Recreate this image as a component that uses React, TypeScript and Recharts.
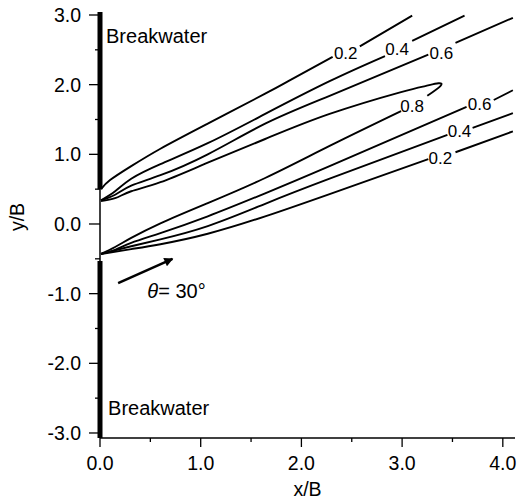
import { LineChart, Line, XAxis, YAxis, ReferenceLine, ReferenceDot } from "recharts";

const FONT = "'Liberation Sans', Arial, Helvetica, sans-serif";

// ─── Data (x/B, y/B) ──────────────────────────────────────

type Pt = { x: number; y: number | null };

const X_DOMAIN: [number, number] = [0, 4.121];
const Y_DOMAIN: [number, number] = [-3.072, 3.043];

const xTicks = [0, 0.5, 1, 1.5, 2, 2.5, 3, 3.5, 4];
const yTicks = [-3, -2.5, -2, -1.5, -1, -0.5, 0, 0.5, 1, 1.5, 2, 2.5, 3];

// upper family, starts at tip of upper breakwater
const contour02Upper: Pt[] = [
  { x: 0.01, y: 0.5 }, { x: 0.1, y: 0.63 }, { x: 0.31, y: 0.83 }, { x: 0.6, y: 1.08 },
  { x: 1.07, y: 1.44 }, { x: 1.64, y: 1.87 }, { x: 1.87, y: 2.05 }, { x: 2.31, y: 2.4 },
  { x: 2.45, y: null },
  { x: 2.58, y: 2.55 }, { x: 3.1, y: 2.99 },
];
const contour04Upper: Pt[] = [
  { x: 0.01, y: 0.34 }, { x: 0.15, y: 0.47 }, { x: 0.31, y: 0.65 }, { x: 0.6, y: 0.86 },
  { x: 1.07, y: 1.16 }, { x: 1.64, y: 1.58 }, { x: 2.28, y: 2.05 }, { x: 2.83, y: 2.41 },
  { x: 2.95, y: null },
  { x: 3.1, y: 2.63 }, { x: 3.62, y: 2.99 },
];
const contour06Upper: Pt[] = [
  { x: 0.01, y: 0.34 }, { x: 0.15, y: 0.42 }, { x: 0.31, y: 0.55 }, { x: 0.6, y: 0.7 },
  { x: 1.07, y: 1.0 }, { x: 1.64, y: 1.44 }, { x: 2.28, y: 1.84 }, { x: 3.26, y: 2.43 },
  { x: 3.39, y: null },
  { x: 3.53, y: 2.6 }, { x: 4.1, y: 2.96 },
];
// 0.8 is a tongue: upper branch out to the tip, then back along the lower branch
const contour08: Pt[] = [
  { x: 0.01, y: 0.33 }, { x: 0.15, y: 0.37 }, { x: 0.31, y: 0.47 }, { x: 0.6, y: 0.6 },
  { x: 1.07, y: 0.88 }, { x: 1.64, y: 1.22 }, { x: 2.28, y: 1.58 }, { x: 2.98, y: 1.89 },
  { x: 3.23, y: 1.98 }, { x: 3.36, y: 2.02 }, { x: 3.38, y: 1.98 }, { x: 3.25, y: 1.84 },
  { x: 3.1, y: null },
  { x: 2.99, y: 1.62 }, { x: 2.28, y: 1.12 }, { x: 1.64, y: 0.66 }, { x: 1.07, y: 0.3 },
  { x: 0.6, y: 0.01 }, { x: 0.31, y: -0.2 }, { x: 0.15, y: -0.33 }, { x: 0.01, y: -0.43 },
];
// lower family, starts at tip of lower breakwater
const contour06Lower: Pt[] = [
  { x: 0.01, y: -0.43 }, { x: 0.15, y: -0.37 }, { x: 0.31, y: -0.27 }, { x: 0.6, y: -0.13 },
  { x: 1.07, y: 0.11 }, { x: 1.64, y: 0.44 }, { x: 2.28, y: 0.83 }, { x: 3.64, y: 1.68 },
  { x: 3.77, y: null },
  { x: 3.91, y: 1.78 }, { x: 4.1, y: 1.92 },
];
const contour04Lower: Pt[] = [
  { x: 0.01, y: -0.43 }, { x: 0.31, y: -0.32 }, { x: 0.6, y: -0.22 }, { x: 1.07, y: -0.03 },
  { x: 1.64, y: 0.29 }, { x: 2.28, y: 0.65 }, { x: 3.45, y: 1.28 },
  { x: 3.57, y: null },
  { x: 3.7, y: 1.38 }, { x: 4.1, y: 1.59 },
];
const contour02Lower: Pt[] = [
  { x: 0.01, y: -0.43 }, { x: 0.31, y: -0.36 }, { x: 0.6, y: -0.29 }, { x: 1.07, y: -0.14 },
  { x: 1.64, y: 0.11 }, { x: 2.28, y: 0.43 }, { x: 3.26, y: 0.93 },
  { x: 3.38, y: null },
  { x: 3.53, y: 1.03 }, { x: 4.1, y: 1.33 },
];

const contours = [
  contour02Upper, contour04Upper, contour06Upper, contour08,
  contour06Lower, contour04Lower, contour02Lower,
];

const contourLabels = [
  { x: 2.44, y: 2.45, text: "0.2" },
  { x: 2.95, y: 2.51, text: "0.4" },
  { x: 3.39, y: 2.45, text: "0.6" },
  { x: 3.1, y: 1.69, text: "0.8" },
  { x: 3.77, y: 1.72, text: "0.6" },
  { x: 3.57, y: 1.33, text: "0.4" },
  { x: 3.38, y: 0.95, text: "0.2" },
];

const breakwaterUpper = [{ x: 0, y: 0.5 }, { x: 0, y: 3.043 }];
const breakwaterLower = [{ x: 0, y: -3.072 }, { x: 0, y: -0.53 }];
const waveArrow = [{ x: 0.18, y: -0.85 }, { x: 0.72, y: -0.5 }];

// ─── Ticks & text ─────────────────────────────────────────

function XTick({ x, y, payload }: any) {
  const major = Number.isInteger(payload.value);
  return (
    <g>
      <line x1={x} x2={x} y1={y} y2={y + (major ? 9 : 4)} stroke="#000" strokeWidth={1.3} />
      {major && (
        <text x={x} y={y + 32} textAnchor="middle" fontSize={19.5} fontFamily={FONT} fill="#000">
          {payload.value.toFixed(1)}
        </text>
      )}
    </g>
  );
}

function YTick({ x, y, payload }: any) {
  const major = Number.isInteger(payload.value);
  return (
    <g>
      <line x1={x} x2={x - (major ? 11 : 5)} y1={y} y2={y} stroke="#000" strokeWidth={1.3} />
      {major && (
        <text x={x - 19} y={y} dy="0.36em" textAnchor="end" fontSize={19.5} fontFamily={FONT} fill="#000">
          {payload.value.toFixed(1)}
        </text>
      )}
    </g>
  );
}

function Anno({ viewBox, text, size = 17, anchor = "middle", italicPrefix }: any) {
  if (!viewBox) return null;
  const x = viewBox.x + (viewBox.width || 0) / 2;
  const y = viewBox.y + (viewBox.height || 0) / 2;
  return (
    <text
      x={x}
      y={y}
      dy={anchor === "middle" ? "0.36em" : 0}
      textAnchor={anchor}
      fontSize={size}
      fontFamily={FONT}
      fill="#000"
    >
      {italicPrefix && <tspan fontStyle="italic">{italicPrefix}</tspan>}
      {text}
    </text>
  );
}

export default function App() {
  return (
    <div style={{ position: "absolute", left: 0, top: 0, width: 519, height: 501, background: "#fff" }}>
      <LineChart width={519} height={501} margin={{ top: 12, right: 4, left: 0, bottom: 0 }}>
        <defs>
          <marker
            id="arrowHead"
            viewBox="0 0 10 10"
            refX={9}
            refY={5}
            markerUnits="userSpaceOnUse"
            markerWidth={16}
            markerHeight={9}
            orient="auto"
          >
            <path d="M0,0 L10,5 L0,10 z" fill="#000" />
          </marker>
        </defs>
        <XAxis
          type="number"
          dataKey="x"
          domain={X_DOMAIN}
          allowDataOverflow
          ticks={xTicks}
          tick={<XTick />}
          tickLine={false}
          tickSize={0}
          tickMargin={0}
          height={63}
          axisLine={{ stroke: "#000", strokeWidth: 1.5 }}
          label={{
            content: ({ viewBox }: any) => (
              <text
                x={viewBox.x + viewBox.width / 2}
                y={viewBox.y + 58}
                textAnchor="middle"
                fontSize={19.5}
                fontFamily={FONT}
                fill="#000"
              >
                x/B
              </text>
            ),
          }}
        />
        <XAxis xAxisId="top" orientation="top" type="number" domain={X_DOMAIN} height={0} tick={false} tickLine={false} axisLine={{ stroke: "#000", strokeWidth: 1.3 }} />
        <YAxis
          type="number"
          domain={Y_DOMAIN}
          allowDataOverflow
          ticks={yTicks}
          tick={<YTick />}
          tickLine={false}
          tickSize={0}
          tickMargin={0}
          width={100}
          axisLine={{ stroke: "#000", strokeWidth: 1.5 }}
          label={{
            content: ({ viewBox }: any) => {
              const cx = viewBox.x + 17;
              const cy = viewBox.y + viewBox.height / 2 - 8;
              return (
                <text
                  x={cx}
                  y={cy}
                  dy="0.36em"
                  textAnchor="middle"
                  transform={`rotate(-90, ${cx}, ${cy})`}
                  fontSize={19.5}
                  fontFamily={FONT}
                  fill="#000"
                >
                  y/B
                </text>
              );
            },
          }}
        />
        <YAxis yAxisId="right" orientation="right" type="number" domain={Y_DOMAIN} width={0} tick={false} tickLine={false} axisLine={{ stroke: "#000", strokeWidth: 1.3 }} />

        {contours.map((c, i) => (
          <Line
            key={i}
            data={c}
            dataKey="y"
            type="natural"
            stroke="#000"
            strokeWidth={1.9}
            dot={false}
            activeDot={false}
            connectNulls={false}
            isAnimationActive={false}
          />
        ))}

        <ReferenceLine segment={breakwaterUpper} stroke="#000" strokeWidth={5} ifOverflow="visible" />
        <ReferenceLine segment={breakwaterLower} stroke="#000" strokeWidth={5} ifOverflow="visible" />
        <ReferenceLine segment={waveArrow} stroke="#000" strokeWidth={2.5} markerEnd="url(#arrowHead)" ifOverflow="visible" />

        {contourLabels.map((l, i) => (
          <ReferenceDot key={i} x={l.x} y={l.y} r={0} fill="none" stroke="none" label={<Anno text={l.text} />} />
        ))}
        <ReferenceDot x={0.06} y={2.6} r={0} fill="none" stroke="none" label={<Anno text="Breakwater" size={20} anchor="start" />} />
        <ReferenceDot x={0.08} y={-2.74} r={0} fill="none" stroke="none" label={<Anno text="Breakwater" size={20} anchor="start" />} />
        <ReferenceDot x={0.47} y={-1.06} r={0} fill="none" stroke="none" label={<Anno text="= 30°" italicPrefix="θ" size={20} anchor="start" />} />
      </LineChart>
    </div>
  );
}
